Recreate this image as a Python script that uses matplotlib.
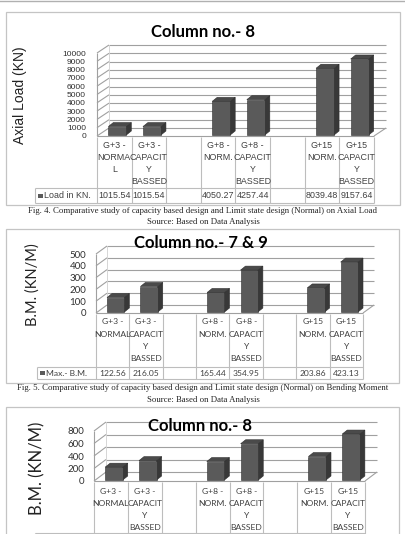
import numpy as np
import matplotlib
matplotlib.use("Agg")
import matplotlib.pyplot as plt
from matplotlib.patches import Rectangle, Polygon
from matplotlib.lines import Line2D

W, H, DPI = 406, 534, 100

# ---- data ----
cats_axial = ["G+3 -\nNORMA\nL", "G+3 -\nCAPACIT\nY\nBASSED", "", "G+8 -\nNORM.",
              "G+8 -\nCAPACIT\nY\nBASSED", "", "G+15\nNORM.", "G+15\nCAPACIT\nY\nBASSED"]
cats_bm = ["G+3 -\nNORMAL", "G+3 -\nCAPACIT\nY\nBASSED", "", "G+8 -\nNORM.",
           "G+8 -\nCAPACIT\nY\nBASSED", "", "G+15\nNORM.", "G+15\nCAPACIT\nY\nBASSED"]

axial_load = [1015.54, 1015.54, np.nan, 4050.27, 4257.44, np.nan, 8039.48, 9157.64]
bm_col79 = [122.56, 216.05, np.nan, 165.44, 354.95, np.nan, 203.86, 423.13]
bm_col8 = [205, 310, np.nan, 295, 580, np.nan, 375, 735]

ticks_axial = list(range(0, 10001, 1000))
ticks_bm79 = [0, 100, 200, 300, 400, 500]
ticks_bm8 = [0, 200, 400, 600, 800]

cap4 = "Fig. 4. Comparative study of capacity based design and Limit state design (Normal) on Axial Load"
cap5 = "Fig. 5. Comparative study of capacity based design and Limit state design (Normal) on Bending Moment"
source = "Source: Based on Data Analysis"

GRID = "#a0a0a0"
TBL = "#bdbdbd"
TXT = "#404040"
FRONT, SIDE, TOP = "#5a5a5a", "#383838", "#4a4a4a"

fig = plt.figure(figsize=(W / DPI, H / DPI), dpi=DPI)


def fx(x):
    return x / W


def fy(y):
    return 1 - y / H


def draw_chart(lay, values, cats, legend_label, yticks, title, ylabel):
    L, T, R, B = lay["box"]
    fig.add_artist(Rectangle((fx(L), fy(B)), fx(R) - fx(L), fy(T) - fy(B),
                             transform=fig.transFigure, fill=False, ec="#c4c4c4", lw=0.9))
    pl, pt, pr, pb = lay["plot"]
    ax = fig.add_axes([fx(pl), fy(pb), fx(pr) - fx(pl), fy(pt) - fy(pb)])
    n = len(values)
    ymax = yticks[-1]
    ax.set_xlim(-0.5, n - 0.5)
    ax.set_ylim(0, ymax)
    ax.patch.set_visible(False)
    for s in ax.spines.values():
        s.set_visible(False)
    ax.set_xticks([])
    ax.set_yticks(yticks)
    ax.tick_params(axis="y", length=0, pad=lay["pad"], labelsize=lay["tick_size"], labelcolor="#303030")
    for lab in ax.get_yticklabels():
        lab.set_fontfamily(lay["tick_font"])

    sx = n / (pr - pl)          # data units per pixel
    sy = ymax / (pb - pt)

    def yd(ypx):
        return (pb - ypx) * sy

    kw = dict(clip_on=False, solid_capstyle="butt")
    ddx, ddy = lay["depth"][0] * sx, lay["depth"][1] * sy
    # walls and floor
    for t in yticks:
        ax.plot([-0.5, -0.5 + ddx], [t, t + ddy], color=GRID, lw=0.8, **kw)
        ax.plot([-0.5 + ddx, n - 0.5 + ddx], [t + ddy, t + ddy], color=GRID, lw=0.8, **kw)
    ax.plot([-0.5, -0.5], [0, ymax], color=GRID, lw=0.8, **kw)
    ax.plot([-0.5 + ddx] * 2, [ddy, ymax + ddy], color="#d0d0d0", lw=0.6, **kw)
    ax.plot([n - 0.5, n - 0.5 + ddx], [0, ddy], color=GRID, lw=0.8, **kw)
    ax.plot([-0.5, n - 0.5], [0, 0], color=GRID, lw=0.8, **kw)

    # 3d bars
    w = lay["bar_w"]
    ox, oy = lay["bar_off"][0] * sx, lay["bar_off"][1] * sy
    bx, by = lay["bar_depth"][0] * sx, lay["bar_depth"][1] * sy
    for i, v in enumerate(values):
        if np.isnan(v):
            continue
        x0 = i - w / 2 + ox
        y0 = oy
        side = [(x0 + w, y0), (x0 + w, y0 + v), (x0 + w + bx, y0 + v + by), (x0 + w + bx, y0 + by)]
        top = [(x0, y0 + v), (x0 + w, y0 + v), (x0 + w + bx, y0 + v + by), (x0 + bx, y0 + v + by)]
        ax.add_patch(Polygon(side, closed=True, fc=SIDE, ec="#2e2e2e", lw=0.4, clip_on=False, zorder=3))
        ax.add_patch(Polygon(top, closed=True, fc=TOP, ec="#2e2e2e", lw=0.4, clip_on=False, zorder=3))
        ax.add_patch(Rectangle((x0, y0), w, v, fc=FRONT, ec="#2e2e2e", lw=0.4, clip_on=False, zorder=4))

    # data table
    tb = lay["table"]
    leg_left = -0.5 - (pl - tb["leg_left"]) * sx
    for k in range(n + 1):
        ax.plot([-0.5 + k] * 2, [yd(pb + 1), yd(tb["bottom"])], color=TBL, lw=0.8, **kw)
    ax.plot([leg_left, n - 0.5], [yd(tb["sep"])] * 2, color=TBL, lw=0.8, **kw)
    ax.plot([leg_left, n - 0.5], [yd(tb["bottom"])] * 2, color=TBL, lw=0.8, **kw)
    ax.plot([leg_left] * 2, [yd(tb["sep"]), yd(tb["bottom"])], color=TBL, lw=0.8, **kw)
    show_row = tb["val"] < H   # the last chart's legend row falls below the page crop
    for i, c in enumerate(cats):
        for j, line in enumerate(c.split("\n")):
            ax.text(i, yd(tb["first"] + j * tb["step"]), line, ha="center", va="center",
                    fontsize=tb["size"], color=TXT, family=tb["font"], clip_on=False)
        if show_row and not np.isnan(values[i]):
            ax.text(i, yd(tb["val"]), f"{values[i]:.2f}", ha="center", va="center",
                    fontsize=tb["size"], color=TXT, family=tb["font"], clip_on=False)
    if show_row:
        msz = 4.5
        ax.add_patch(Rectangle((leg_left + 3 * sx, yd(tb["val"]) - msz / 2 * sy), msz * sx, msz * sy,
                               fc=FRONT, ec="none", clip_on=False))
        ax.text(leg_left + 9 * sx, yd(tb["val"]), legend_label, ha="left", va="center",
                fontsize=tb["size"], color=TXT, family=tb["font"], clip_on=False)

    fig.text(fx(lay["title"][0]), fy(lay["title"][1]), title, ha="center", va="center",
             fontsize=lay["title_size"], fontweight="bold", family="Lato", color="black")
    fig.text(fx(lay["ylabel"][0]), fy(lay["ylabel"][1]), ylabel, rotation=90, ha="center",
             va="center", fontsize=lay["ylabel_size"], family=lay["ylabel_font"], color="#222222")


lay1 = dict(box=(6, 12, 400, 205), plot=(97, 53, 374, 136), depth=(12, 8),
            bar_w=0.52, bar_off=(3, 1), bar_depth=(5, 4),
            pad=8, tick_size=6, tick_font="Liberation Sans",
            title=(203, 32), title_size=12, ylabel=(20, 95), ylabel_size=10,
            ylabel_font="Liberation Sans",
            table=dict(first=146, step=12, sep=188, val=196, bottom=203, leg_left=35,
                       size=6.4, font="Liberation Sans"))
lay2 = dict(box=(6, 229, 399, 383), plot=(96, 254, 363, 313), depth=(11, 8),
            bar_w=0.52, bar_off=(3, 1), bar_depth=(5, 4),
            pad=7, tick_size=7, tick_font="Lato",
            title=(201, 243), title_size=12, ylabel=(33, 285), ylabel_size=10.5,
            ylabel_font="Lato",
            table=dict(first=322, step=12.3, sep=367, val=373, bottom=379, leg_left=37,
                       size=6.1, font="Lato"))
lay3 = dict(box=(6, 407, 399, 560), plot=(94, 431, 365, 481), depth=(12, 9),
            bar_w=0.52, bar_off=(3, 1), bar_depth=(5, 4),
            pad=7, tick_size=7, tick_font="Lato",
            title=(200, 426), title_size=12, ylabel=(37, 468), ylabel_size=12,
            ylabel_font="Lato",
            table=dict(first=492, step=11.7, sep=533, val=540, bottom=547, leg_left=35,
                       size=6.1, font="Lato"))

draw_chart(lay1, axial_load, cats_axial, "Load in KN.", ticks_axial, "Column no.- 8", "Axial Load (KN)")
draw_chart(lay2, bm_col79, cats_bm, "Max.- B.M.", ticks_bm79, "Column no.- 7 & 9", "B.M. (KN/M)")
draw_chart(lay3, bm_col8, cats_bm, "Max.- B.M.", ticks_bm8, "Column no.- 8", "B.M. (KN/M)")

for y, txt in [(211, cap4), (221.5, source), (388.5, cap5), (399.5, source)]:
    fig.text(0.5, fy(y), txt, ha="center", va="center", fontsize=6.3,
             family="Liberation Serif", color="#222222")

fig.add_artist(Line2D([0, 1], [fy(0.5)] * 2, transform=fig.transFigure, color="#b0b0b0", lw=1))

fig.savefig("out.png", dpi=DPI)
